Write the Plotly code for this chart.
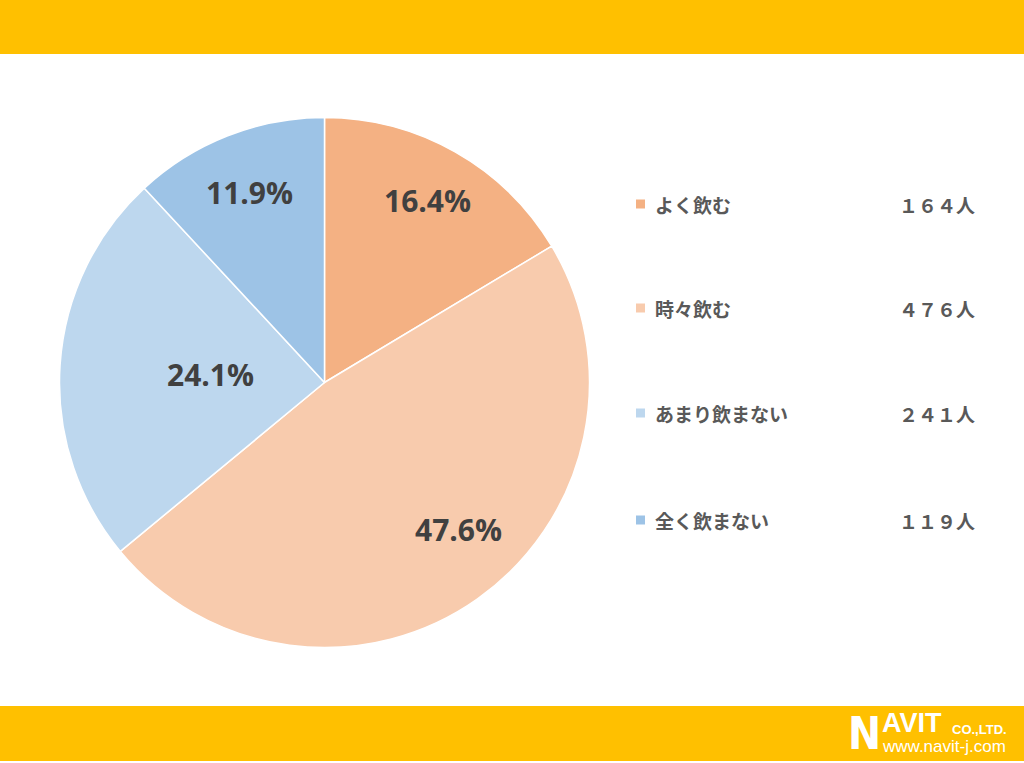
import math
import plotly.graph_objects as go

categories = ["よく飲む", "時々飲む", "あまり飲まない", "全く飲まない"]
counts = [164, 476, 241, 119]
percent_labels = ["16.4%", "47.6%", "24.1%", "11.9%"]
count_labels = ["１６４人", "４７６人", "２４１人", "１１９人"]
colors = ["#F4B183", "#F8CBAD", "#BDD7EE", "#9DC3E6"]
label_radius_frac = [0.79, 0.75, 0.43, 0.77]
label_angle_shift_deg = [0, -7, 0, 0]

W, H = 1024, 763
cx, cy, R = 324.5, 382.5, 265.0

fig = go.Figure()
fig.add_trace(go.Pie(
    labels=categories,
    values=counts,
    sort=False,
    direction="clockwise",
    rotation=0,
    marker=dict(colors=colors, line=dict(color="white", width=1.5)),
    textinfo="none",
    hoverinfo="label+value+percent",
    showlegend=False,
    domain=dict(x=[(cx - R) / W, (cx + R) / W], y=[(H - cy - R) / H, (H - cy + R) / H]),
))

annotations = []
total = sum(counts)
cum = 0
for lab, v, fr, sh in zip(percent_labels, counts, label_radius_frac, label_angle_shift_deg):
    mid = (cum + v / 2) / total * 2 * math.pi + math.radians(sh)
    cum += v
    px = cx + fr * R * math.sin(mid)
    py = cy - fr * R * math.cos(mid)
    annotations.append(dict(
        x=px / W, y=1 - py / H, xref="paper", yref="paper", text=lab, showarrow=False,
        font=dict(family="Open Sans", size=30, color="#404040", weight="bold"),
        xanchor="center", yanchor="middle",
    ))

legend_y = [204, 308, 413, 520]
for cat, cl, col, ly in zip(categories, count_labels, colors, legend_y):
    annotations.append(dict(
        x=653 / W, y=1 - ly / H, xref="paper", yref="paper", text=cat, showarrow=False,
        font=dict(family="Noto Sans CJK JP", size=19, color="#595959", weight="bold"),
        xanchor="left", yanchor="middle",
    ))
    annotations.append(dict(
        x=977 / W, y=1 - ly / H, xref="paper", yref="paper", text=cl, showarrow=False,
        font=dict(family="Noto Sans CJK JP", size=19, color="#595959", weight="bold"),
        xanchor="right", yanchor="middle",
    ))

shapes = [
    dict(type="rect", xref="paper", yref="paper", x0=0, x1=1, y0=1 - 54 / H, y1=1,
         fillcolor="#FFC000", line=dict(width=0), layer="below"),
    dict(type="rect", xref="paper", yref="paper", x0=0, x1=1, y0=1 - 761 / H, y1=1 - 706 / H,
         fillcolor="#FFC000", line=dict(width=0), layer="below"),
]
for col, ly in zip(colors, legend_y):
    shapes.append(dict(type="rect", xref="paper", yref="paper",
                       x0=636 / W, x1=645 / W, y0=1 - (ly + 4.5) / H, y1=1 - (ly - 4.5) / H,
                       fillcolor=col, line=dict(width=0)))

# Logo
annotations += [
    dict(x=846 / W, y=1 - 733 / H, xref="paper", yref="paper", text="N", showarrow=False,
         font=dict(family="DejaVu Sans Condensed", size=44, color="white", weight="bold"),
         xanchor="left", yanchor="middle"),
    dict(x=880 / W, y=1 - 723 / H, xref="paper", yref="paper", text="AVIT", showarrow=False,
         font=dict(family="Liberation Sans", size=27, color="white", weight="bold"),
         xanchor="left", yanchor="middle"),
    dict(x=950 / W, y=1 - 729 / H, xref="paper", yref="paper", text="CO.,LTD.", showarrow=False,
         font=dict(family="Liberation Sans", size=13, color="white", weight="bold"),
         xanchor="left", yanchor="middle"),
    dict(x=880 / W, y=1 - 746 / H, xref="paper", yref="paper", text="www.navit-j.com", showarrow=False,
         font=dict(family="Liberation Sans", size=17, color="white"),
         xanchor="left", yanchor="middle"),
]

fig.update_layout(
    width=W, height=H,
    margin=dict(l=0, r=0, t=0, b=0),
    paper_bgcolor="white", plot_bgcolor="white",
    shapes=shapes, annotations=annotations,
)

fig.write_html("out.html", config={"displayModeBar": False},
               post_script="document.body.style.margin='0';document.body.style.overflow='hidden';")
